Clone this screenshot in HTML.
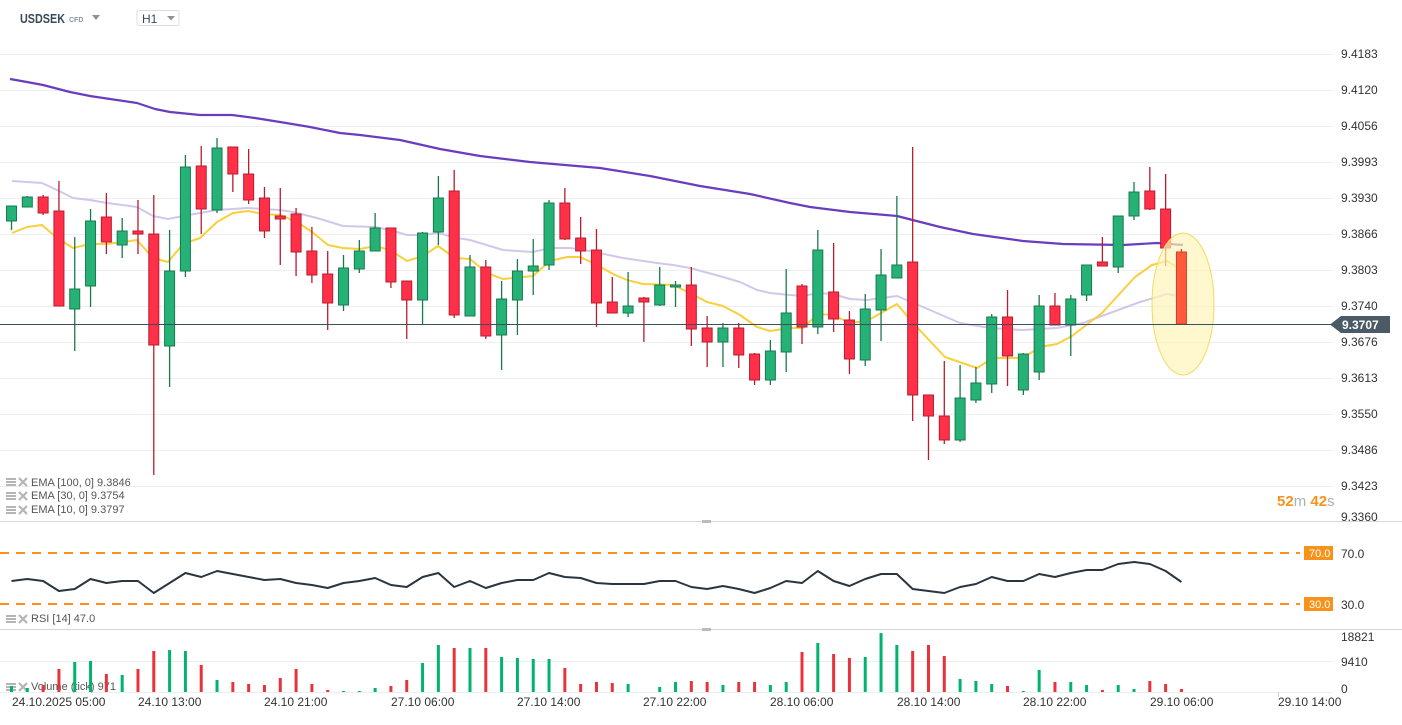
<!DOCTYPE html>
<html><head><meta charset="utf-8"><style>
html,body{margin:0;padding:0;background:#fff;width:1402px;height:725px;overflow:hidden}
svg{display:block;font-family:"Liberation Sans",Arial,sans-serif}
</style></head><body>
<svg id="c" width="1402" height="725" viewBox="0 0 1402 725" xmlns="http://www.w3.org/2000/svg">
<rect width="1402" height="725" fill="#fff"/>
<g id="grid" stroke="#eeeeee" stroke-width="1"></g>
<line x1="0" y1="521.5" x2="1402" y2="521.5" stroke="#d6d6d6"/>
<line x1="0" y1="629.5" x2="1402" y2="629.5" stroke="#d6d6d6"/>
<rect x="702" y="520" width="9" height="3" fill="#bbb"/>
<rect x="702" y="628" width="9" height="3" fill="#bbb"/>
<text x="20" y="23" font-size="13" font-weight="bold" fill="#3a4a58" textLength="45" lengthAdjust="spacingAndGlyphs">USDSEK</text>
<text x="69" y="22" font-size="7" font-weight="bold" fill="#8a939b">CFD</text>
<path d="M92 15 L100 15 L96 20 Z" fill="#8a939b"/>
<rect x="137" y="10.5" width="42" height="15" fill="#fff" stroke="#d9dde0" rx="2"/>
<text x="142" y="23" font-size="12" fill="#3a4a58">H1</text>
<path d="M167 16 L175 16 L171 20.5 Z" fill="#8a939b"/>
<g id="lines"></g>
<g id="candles"></g>
<ellipse cx="1183" cy="304" rx="31" ry="71" fill="#fff3b8" fill-opacity="0.7" stroke="#f6d860" stroke-width="1"/>
<g id="candles2"></g>
<line x1="0" y1="324.5" x2="1333" y2="324.5" stroke="#3d4f5c" stroke-width="1"/>
<path d="M1330 324.5 L1341 316 L1390 316 L1390 333 L1341 333 Z" fill="#4a5a66"/>
<text x="1342" y="329" font-size="12" font-weight="bold" fill="#fff">9.3707</text>
<g font-size="12" fill="#333">
<text x="1341" y="58">9.4183</text><text x="1341" y="94">9.4120</text><text x="1341" y="130">9.4056</text>
<text x="1341" y="166">9.3993</text><text x="1341" y="202">9.3930</text><text x="1341" y="238">9.3866</text>
<text x="1341" y="274">9.3803</text><text x="1341" y="310">9.3740</text><text x="1341" y="346">9.3676</text>
<text x="1341" y="382">9.3613</text><text x="1341" y="418">9.3550</text><text x="1341" y="454">9.3486</text>
<text x="1341" y="490">9.3423</text><text x="1341" y="521">9.3360</text>
<text x="1341" y="558">70.0</text><text x="1341" y="609">30.0</text>
<text x="1341" y="641">18821</text><text x="1341" y="666">9410</text><text x="1341" y="693">0</text>
</g>
<text x="1277" y="506" font-size="15"><tspan fill="#f7931a" font-weight="bold">52</tspan><tspan fill="#aab0b5">m </tspan><tspan fill="#f7931a" font-weight="bold">42</tspan><tspan fill="#aab0b5">s</tspan></text>
<g font-size="11" fill="#555">
<text x="31" y="486">EMA [100,  0] 9.3846</text>
<text x="31" y="499">EMA [30,  0] 9.3754</text>
<text x="31" y="513">EMA [10,  0] 9.3797</text>
<text x="31" y="622">RSI  [14]  47.0</text>
<text x="31" y="690">Volume  (tick)  971</text>
</g>
<g fill="#b5b5b5" id="icons"></g>
<line x1="0" y1="553" x2="1300" y2="553" stroke="#f7931a" stroke-width="2" stroke-dasharray="9,7"/>
<line x1="0" y1="604" x2="1300" y2="604" stroke="#f7931a" stroke-width="2" stroke-dasharray="9,7"/>
<rect x="1304" y="546" width="29" height="14" fill="#f7931a"/>
<text x="1309" y="557" font-size="11" fill="#fff">70.0</text>
<rect x="1304" y="597" width="29" height="14" fill="#f7931a"/>
<text x="1309" y="608" font-size="11" fill="#fff">30.0</text>
<polyline id="rsi" fill="none" stroke="#2a3540" stroke-width="2" stroke-linejoin="round"/>
<g id="vol"></g>
<line x1="1278.5" y1="692" x2="1278.5" y2="697" stroke="#ccc"/>
<g font-size="12" fill="#333">
<text x="12" y="706">24.10.2025  05:00</text>
<text x="138" y="706">24.10  13:00</text>
<text x="264" y="706">24.10  21:00</text>
<text x="391" y="706">27.10  06:00</text>
<text x="517" y="706">27.10  14:00</text>
<text x="643" y="706">27.10  22:00</text>
<text x="770" y="706">28.10  06:00</text>
<text x="897" y="706">28.10  14:00</text>
<text x="1023" y="706">28.10  22:00</text>
<text x="1150" y="706">29.10  06:00</text>
<text x="1278" y="706">29.10  14:00</text>
</g>
</svg>
<script>
var NS="http://www.w3.org/2000/svg";
function el(p,t,a){var e=document.createElementNS(NS,t);for(var k in a)e.setAttribute(k,a[k]);p.appendChild(e);return e;}
var g=document.getElementById('grid');
for(var i=0;i<13;i++){var y=54+36*i+0.5;el(g,'line',{x1:0,y1:y,x2:1333,y2:y});}
el(g,'line',{x1:0,y1:661.5,x2:1333,y2:661.5});
el(g,'line',{x1:0,y1:692.5,x2:1333,y2:692.5});
var ic=document.getElementById('icons');
[478,492,506,615,683].forEach(function(y){el(ic,'rect',{x:6,y:y,width:10,height:2});el(ic,'rect',{x:6,y:y+3,width:10,height:2});el(ic,'rect',{x:6,y:y+6,width:10,height:2});
el(ic,'path',{d:'M19 '+(y)+' L27 '+(y+8)+' M27 '+y+' L19 '+(y+8),stroke:'#b5b5b5','stroke-width':2.2});});
var C=[[206,221,206,230,'g'],[197,207,196,207,'g'],[197,213,195,215,'r'],[211,306,181,306,'r'],[289,309,237,351,'g'],[221,286,209,307,'g'],[217,242,193,254,'r'],[231,245,218,258,'g'],[231,234,200,254,'r'],[234,345,195,475,'r'],
[271,346,230,387,'g'],[167,271,155,277,'g'],[166,209,146,234,'r'],[148,210,138,213,'g'],[147,174,147,192,'r'],[174,200,149,204,'r'],[198,231,187,238,'r'],[216,219,188,265,'r'],[214,252,208,276,'r'],[251,275,227,283,'r'],
[274,303,251,330,'r'],[268,305,255,311,'g'],[251,269,240,273,'g'],[228,251,213,251,'g'],[228,282,228,288,'r'],[281,300,281,339,'r'],[233,300,232,324,'g'],[198,232,176,245,'g'],[191,315,170,318,'r'],[267,316,255,316,'g'],
[267,336,260,339,'r'],[299,335,281,370,'g'],[271,300,259,335,'g'],[266,271,239,295,'g'],[203,265,200,270,'g'],[203,239,188,240,'r'],[238,251,217,264,'r'],[250,303,229,327,'r'],[302,313,277,313,'r'],[306,313,272,317,'g'],
[298,302,297,342,'r'],[285,305,267,306,'g'],[285,287,281,307,'g'],[285,329,267,346,'r'],[328,342,316,367,'r'],[328,342,323,367,'g'],[328,355,323,368,'r'],[354,380,353,385,'r'],[351,380,340,385,'g'],[313,352,269,372,'g'],
[286,327,284,344,'r'],[250,327,230,334,'g'],[292,319,243,332,'r'],[320,359,311,374,'r'],[309,360,294,366,'g'],[275,310,249,341,'g'],[265,278,196,278,'g'],[262,395,147,421,'r'],[395,416,395,460,'r'],[416,440,361,444,'r'],
[398,440,365,442,'g'],[383,400,367,403,'g'],[317,384,314,393,'g'],[317,356,290,386,'r'],[354,390,353,395,'g'],[306,372,295,380,'g'],[306,325,293,325,'r'],[299,325,295,356,'g'],[265,295,265,301,'g'],[262,266,237,266,'r'],
[216,267,216,273,'g'],[192,216,182,220,'g'],[191,209,167,210,'r'],[209,248,174,266,'r'],[252,324,249,324,'o']];
function X(i){return 11.5+i*15.81;}
var cg=document.getElementById('candles'),cg2=document.getElementById('candles2');
C.forEach(function(c,i){var x=X(i);var p=i==74?cg2:cg;
var col=c[4]=='g'?'#26b276':(c[4]=='r'?'#ff3048':'#ff5a3c');var sc=c[4]=='g'?'#177a4e':(c[4]=='r'?'#b81c2e':'#d0402a');
el(p,'line',{x1:x,y1:c[2],x2:x,y2:c[3],stroke:sc,'stroke-width':1.3});
var h=Math.max(c[1]-c[0],2);el(p,'rect',{x:x-5,y:c[0],width:10,height:h,fill:col,stroke:sc,'stroke-width':1});});
function pl(p,pts,col,w){el(p,'polyline',{points:pts.map(function(a){return a.join(',')}).join(' '),fill:'none',stroke:col,'stroke-width':w,'stroke-linejoin':'round'});}
var L=document.getElementById('lines');
pl(L,[[10,79],[27,82],[43,85],[70,92],[90,96],[110,99],[137,103],[155,109],[170,112],[200,115],[232,115],[255,118],[280,122],[310,127],[340,133],[360,135],[400,140],[440,149],[480,156],[530,162],[600,168],[650,176],[700,186],[750,194],[790,203],[810,207],[850,212],[897,216],[940,227],[973,234],[1023,241],[1063,244],[1123,245],[1157,243],[1183,245]],'#6a3dbf',2.2);
pl(L,[[12,181],[27,182],[42,183],[57,190],[73,198],[90,200],[107,203],[137,207],[153,216],[168,219],[183,216],[217,210],[248,208],[263,209],[280,210],[293,212],[317,218],[343,226],[375,227],[390,230],[407,235],[423,235],[438,233],[457,238],[470,240],[503,250],[533,252],[550,248],[570,248],[590,251],[623,258],[657,263],[673,265],[690,268],[723,277],[740,282],[757,290],[770,293],[790,295],[803,296],[818,293],[833,294],[850,299],[867,300],[897,296],[930,310],[960,323],[990,328],[1023,330],[1057,328],[1083,323],[1110,313],[1140,302],[1167,294],[1183,297]],'#d2c7ea',2);
pl(L,[[12,233],[27,227],[42,225],[57,238],[73,248],[90,244],[107,244],[137,240],[153,258],[168,262],[183,244],[200,238],[217,222],[233,213],[248,211],[263,214],[280,215],[297,222],[312,232],[328,245],[343,248],[360,249],[375,246],[390,250],[407,261],[423,256],[438,246],[455,258],[470,259],[487,273],[503,279],[533,276],[550,261],[567,257],[580,257],[597,265],[613,274],[627,280],[643,284],[673,285],[690,293],[707,302],[723,306],[740,315],[757,327],[770,331],[790,328],[803,328],[818,314],[833,315],[850,323],[867,321],[897,304],[913,323],[945,357],[977,368],[993,358],[1023,358],[1040,347],[1057,344],[1072,336],[1102,313],[1135,277],[1152,265],[1167,261],[1183,271]],'#f9d03b',2);
var rsi=[581,579,581,591,589,579,583,581,581,593,583,573,577,571,574,577,580,579,583,585,588,583,581,578,585,587,577,573,587,581,588,583,580,580,573,577,578,583,584,584,584,581,581,587,589,586,589,593,588,581,583,571,581,586,579,574,574,589,591,593,587,584,577,581,581,574,577,573,570,570,564,562,564,571,582];
document.getElementById('rsi').setAttribute('points',rsi.map(function(y,i){return X(i)+','+y}).join(' '));
var vt=[686,688,685,669,662,661,674,675,669,651,650,651,665,680,682,684,685,678,669,684,690,691,691,688,686,680,663,645,648,648,648,657,658,659,659,668,684,682,683,684,692,687,682,681,682,685,682,682,685,682,652,643,654,658,657,633,645,651,645,656,679,681,684,686,691,670,682,682,685,690,685,689,681,684,689];
var V=document.getElementById('vol');
vt.forEach(function(y,i){var c=C[i][4]=='g'?'#00b46e':'#e8333c';el(V,'rect',{x:X(i)-1.5,y:y,width:3,height:692-y,fill:c});});
</script>
</body></html>
